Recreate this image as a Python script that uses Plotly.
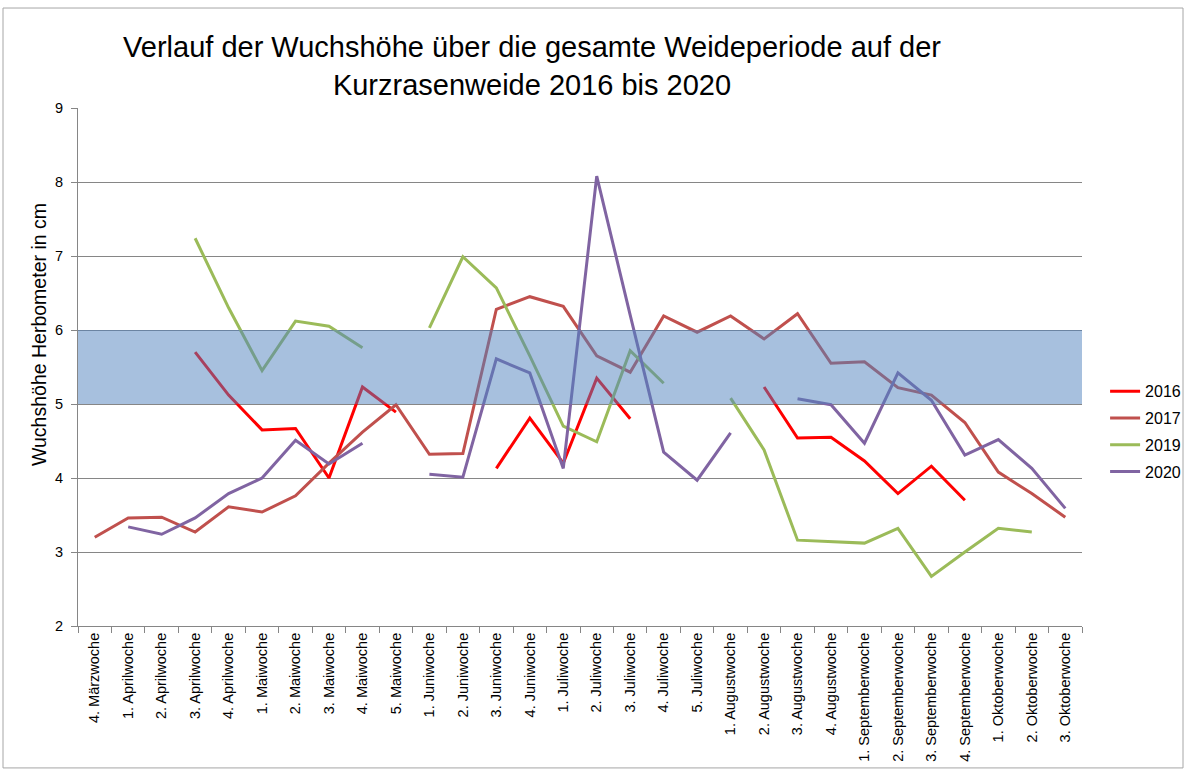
import plotly.graph_objects as go

categories = ["4. Märzwoche", "1. Aprilwoche", "2. Aprilwoche", "3. Aprilwoche", "4. Aprilwoche",
              "1. Maiwoche", "2. Maiwoche", "3. Maiwoche", "4. Maiwoche", "5. Maiwoche",
              "1. Juniwoche", "2. Juniwoche", "3. Juniwoche", "4. Juniwoche",
              "1. Juliwoche", "2. Juliwoche", "3. Juliwoche", "4. Juliwoche", "5. Juliwoche",
              "1. Augustwoche", "2. Augustwoche", "3. Augustwoche", "4. Augustwoche",
              "1. Septemberwoche", "2. Septemberwoche", "3. Septemberwoche", "4. Septemberwoche",
              "1. Oktoberwoche", "2. Oktoberwoche", "3. Oktoberwoche"]

y2016 = [None, None, None, 5.70, 5.12, 4.65, 4.67, 4.00, 5.23, 4.89,
         None, None, 4.13, 4.81, 4.20, 5.35, 4.80, None, None,
         None, 5.23, 4.54, 4.55, 4.23, 3.79, 4.16, 3.70, None, None, None]
y2017 = [3.20, 3.46, 3.47, 3.27, 3.61, 3.54, 3.76, 4.20, 4.62, 4.99,
         4.32, 4.33, 6.28, 6.45, 6.32, 5.65, 5.43, 6.19, 5.97,
         6.19, 5.88, 6.22, 5.55, 5.57, 5.22, 5.12, 4.75, 4.08, 3.79, 3.47]
y2019 = [None, None, None, 7.24, 6.30, 5.45, 6.12, 6.05, 5.76, None,
         6.03, 6.99, 6.57, 5.65, 4.70, 4.49, 5.72, 5.28, None,
         5.08, 4.38, 3.16, 3.14, 3.12, 3.32, 2.67, 3.00, 3.32, 3.27, None]
y2020 = [None, 3.34, 3.24, 3.46, 3.79, 4.00, 4.51, 4.19, 4.47, None,
         4.05, 4.01, 5.61, 5.42, 4.13, 8.08, 6.20, 4.35, 3.97,
         4.61, None, 5.07, 4.99, 4.47, 5.42, 5.05, 4.31, 4.52, 4.13, 3.59]

series = [("2016", y2016, "#FF0000"), ("2017", y2017, "#C0504D"),
          ("2019", y2019, "#9BBB59"), ("2020", y2020, "#8064A2")]

band_low, band_high = 5, 6

FONT = "Arial, Liberation Sans, sans-serif"

fig = go.Figure()
for name, vals, col in series:
    fig.add_trace(go.Scatter(x=categories, y=vals, name=name, mode="lines",
                             line=dict(color=col, width=3), connectgaps=False,
                             legendgroup=name))

# target band (drawn above lines, semi-transparent)
fig.add_shape(type="rect", xref="paper", yref="y", x0=0, x1=1, y0=band_low, y1=band_high,
              fillcolor="rgba(79,129,189,0.5)", line=dict(width=0), layer="above")
# chart border
fig.add_shape(type="rect", xref="paper", yref="paper", x0=-0.0747, x1=1.1006, y0=-0.274, y1=1.193,
              line=dict(color="#A6A6A6", width=1), fillcolor="rgba(0,0,0,0)", layer="below")

# y-axis title as annotation (positioned like the original)
fig.add_annotation(text="Wuchshöhe Herbometer in cm", xref="paper", yref="paper",
                   x=-0.0388, y=0.5618, xanchor="center", yanchor="middle",
                   textangle=-90, showarrow=False, font=dict(size=19.5, family=FONT, color="black"))

fig.update_layout(
    width=1187, height=771,
    margin=dict(l=78, r=105, t=108, b=145, autoexpand=False),
    paper_bgcolor="white", plot_bgcolor="white",
    font=dict(family=FONT, color="black"),
    title=dict(text="Verlauf der Wuchshöhe über die gesamte Weideperiode auf der<br>Kurzrasenweide 2016 bis 2020",
               x=532 / 1187, xanchor="center", y=1 - 57 / 771, yanchor="middle",
               font=dict(size=29, family=FONT, color="black")),
    showlegend=True,
    legend=dict(x=1.023, xanchor="left", y=0.375, yanchor="middle",
                font=dict(size=16, family=FONT), tracegroupgap=3,
                bgcolor="rgba(0,0,0,0)"),
    xaxis=dict(type="category", categoryorder="array", categoryarray=categories,
               range=[-0.5, 29.5], tickangle=-90, tickfont=dict(size=14.5, family=FONT),
               showline=True, linecolor="#868686", linewidth=1,
               ticks="outside", ticklen=6, tickcolor="#868686", tickson="boundaries",
               showgrid=False),
    yaxis=dict(range=[2, 9], dtick=1, tickfont=dict(size=14.5, family=FONT),
               showline=True, linecolor="#868686", linewidth=1,
               ticks="outside", ticklen=6, tickcolor="#868686", ticklabelstandoff=5,
               showgrid=True, gridcolor="#868686", gridwidth=1, zeroline=False),
)

fig.write_html("out.html", config={"displayModeBar": False},
               post_script="document.body.style.margin='0px';")
